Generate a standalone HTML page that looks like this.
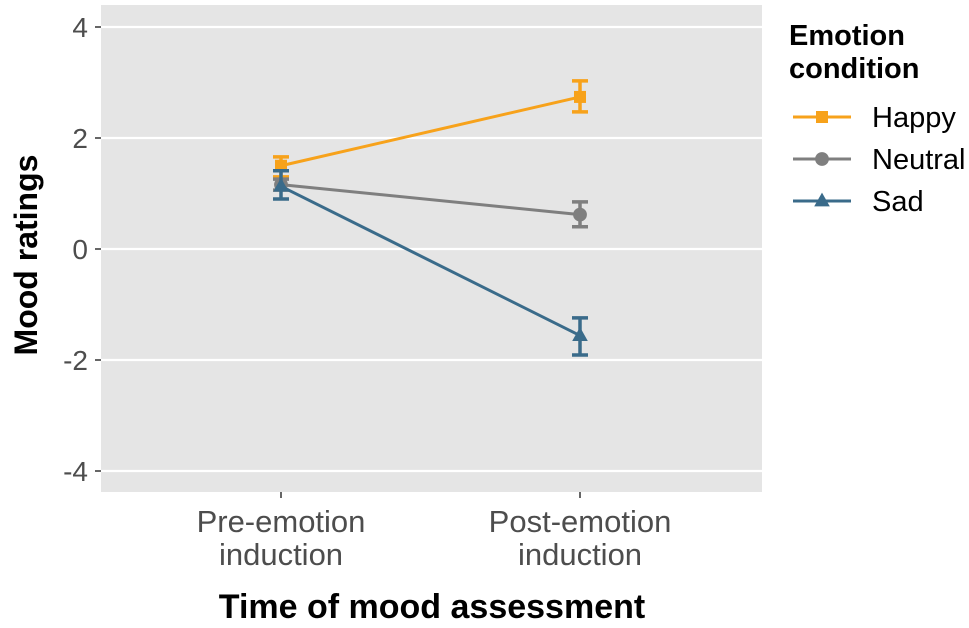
<!DOCTYPE html>
<html><head><meta charset="utf-8"><style>
body{margin:0;background:#fff;width:969px;height:623px;overflow:hidden}
svg text{font-family:"Liberation Sans",sans-serif}
</style></head><body>
<svg id="chart" width="969" height="623">
<rect x="101" y="5" width="661" height="487" fill="#e5e5e5"/>
<g id="grid"></g><g id="axes"></g><g id="marks"></g>
<text x="432" y="618" text-anchor="middle" font-size="34" font-weight="bold" fill="#000">Time of mood assessment</text>
<text transform="translate(37,255) rotate(-90)" text-anchor="middle" font-size="32" font-weight="bold" fill="#000">Mood ratings</text>
<text x="789" y="45" font-size="29" font-weight="bold">Emotion</text>
<text x="789" y="78" font-size="29" font-weight="bold">condition</text>
<g id="legend"></g>
</svg>
<script>
const categories=["Pre-emotion induction","Post-emotion induction"];
const seriesNames=["Happy","Neutral","Sad"];
const happyMean=[1.5,2.74], happyLo=[1.3,2.47], happyHi=[1.66,3.03];
const neutralMean=[1.16,0.62], neutralLo=[1.06,0.4], neutralHi=[1.26,0.85];
const sadMean=[1.13,-1.56], sadLo=[0.9,-1.91], sadHi=[1.41,-1.24];
const yTicks=[4,2,0,-2,-4];
const colors=["#f7a21b","#7f7f7f","#3a6b8a"];
const shapes=["square","circle","triangle"];
const NS="http://www.w3.org/2000/svg";
const y=v=>249-v*55.5;
const x=i=>281+i*299;
function mk(tag,attrs,parent){const e=document.createElementNS(NS,tag);for(const k in attrs)e.setAttribute(k,attrs[k]);parent.appendChild(e);return e;}
const grid=document.getElementById('grid'),axes=document.getElementById('axes'),marks=document.getElementById('marks'),legend=document.getElementById('legend');
yTicks.forEach(v=>{const l=mk('line',{x1:101,x2:762,y1:y(v),y2:y(v),stroke:'#fff','stroke-width':2.2},grid);


const t=mk('line',{x1:95,x2:101,y1:y(v),y2:y(v),stroke:'#333','stroke-width':1.5},axes);


const tx=mk('text',{x:88,y:y(v)+10,'text-anchor':'end','font-size':28,fill:'#4d4d4d'},axes);tx.textContent=v;

});
categories.forEach((c,i)=>{const t=mk('line',{x1:x(i),x2:x(i),y1:492,y2:498,stroke:'#333','stroke-width':1.5},axes);


const parts=c.split(' ');parts.forEach((p,j)=>{const tx=mk('text',{x:x(i),y:532+j*33,'text-anchor':'middle','font-size':31,fill:'#4d4d4d'},axes);tx.textContent=p;

});});
function shape(s,cx,cy,col,parent,sz){let e;
if(s==='square')e=mk('rect',{x:cx-sz,y:cy-sz,width:2*sz,height:2*sz,fill:col},parent);
else if(s==='circle')e=mk('circle',{cx:cx,cy:cy,r:sz*1.15,fill:col},parent);
else e=mk('polygon',{points:`${cx},${cy-sz*1.4} ${cx-sz*1.3},${cy+sz*0.9} ${cx+sz*1.3},${cy+sz*0.9}`,fill:col},parent);return e;}
const data=[[happyMean,happyLo,happyHi],[neutralMean,neutralLo,neutralHi],[sadMean,sadLo,sadHi]];
data.forEach(([m,lo,hi],s)=>{const col=colors[s];
const g=mk('g',{},marks);

const ln=mk('polyline',{points:m.map((v,i)=>x(i)+','+y(v)).join(' '),fill:'none',stroke:col,'stroke-width':3},g);


m.forEach((v,i)=>{const eb=mk('path',{d:`M${x(i)-8},${y(hi[i])}H${x(i)+8}M${x(i)},${y(hi[i])}V${y(lo[i])}M${x(i)-8},${y(lo[i])}H${x(i)+8}`,stroke:col,'stroke-width':3.5,fill:'none'},g);


const p=shape(shapes[s],x(i),y(v),col,g,6);

});
const ly=117+s*42;
const lg=mk('g',{},legend);

mk('line',{x1:793,x2:851,y1:ly,y2:ly,stroke:col,'stroke-width':3},lg);
shape(shapes[s],822,ly,col,lg,6);
const lt=mk('text',{x:872,y:ly+10,'font-size':29,fill:'#000'},lg);lt.textContent=seriesNames[s];});
</script>
</body></html>
